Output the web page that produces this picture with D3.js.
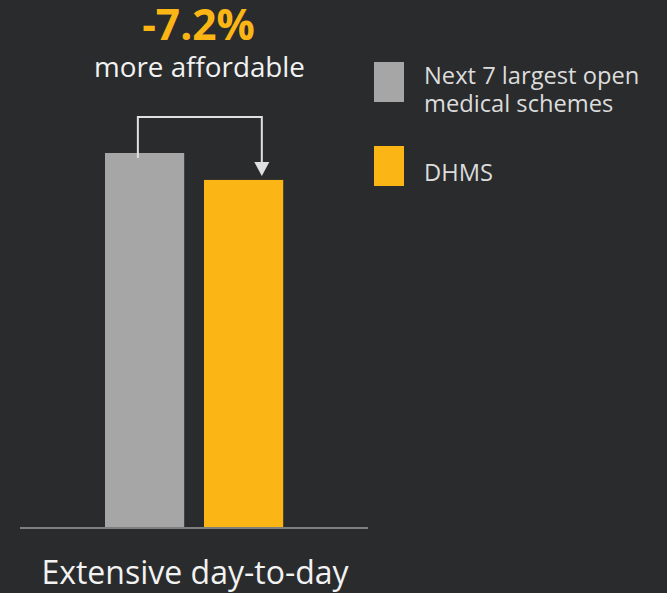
<!DOCTYPE html>
<html><head><meta charset="utf-8">
<script src="https://cdn.jsdelivr.net/npm/d3@7"></script>
<style>
html,body{margin:0;padding:0;background:#2a2b2d;}
svg{display:block;font-family:"Open Sans",sans-serif;}
</style></head>
<body><svg id="c" width="667" height="593"></svg>
<script>
const categories = ["Next 7 largest open medical schemes", "DHMS"];
const values = [100, 92.8];
const colors = ["#a6a6a6", "#fbb616"];
const legendLabels = [["Next 7 largest open", "medical schemes"], ["DHMS"]];
const groupLabel = "Extensive day-to-day";
const diffLabel = "-7.2%";
const diffSub = "more affordable";

const svg = d3.select("#c");
svg.append("rect").attr("width",667).attr("height",593).attr("fill","#2a2b2d");

const x = d3.scaleBand().domain(categories).range([105, 283.2]).paddingInner(0.2).paddingOuter(0);
const y = d3.scaleLinear().domain([0, 100]).range([527, 153]);

svg.selectAll("rect.bar").data(values).enter().append("rect")
  .attr("class","bar")
  .attr("x",(d,i)=>x(categories[i]))
  .attr("width",x.bandwidth())
  .attr("y",d=>y(d))
  .attr("height",d=>y(0)-y(d))
  .attr("fill",(d,i)=>colors[i]);

// baseline
svg.append("line").attr("x1",20).attr("x2",368).attr("y1",y(0)+1).attr("y2",y(0)+1)
  .attr("stroke","#7f7f7f").attr("stroke-width",2);

// bracket
const bx1 = x(categories[0]) + x.bandwidth()*0.415;
const bx2 = x(categories[1]) + x.bandwidth()*0.73;
const topY = y(values[0]) - 36;
const tipY = y(values[1]) - 4;
svg.append("path")
  .attr("d", `M${bx1},${y(values[0])+5} V${topY} H${bx2} V${tipY-13}`)
  .attr("fill","none").attr("stroke","#e0e0e0").attr("stroke-width",2);
svg.append("path")
  .attr("d", `M${bx2-7.5},${tipY-14} L${bx2+7.5},${tipY-14} L${bx2},${tipY} Z`)
  .attr("fill","#e0e0e0");

// annotation text
const cx = 198.5;
svg.append("text").attr("x",cx).attr("y",40).attr("text-anchor","middle")
  .attr("font-size",42.5).attr("font-weight",700).attr("fill","#fbb616").text(diffLabel);
svg.append("text").attr("x",cx+1).attr("y",77).attr("text-anchor","middle")
  .attr("font-size",27.8).attr("fill","#f2f2f2").text(diffSub);

// category label
svg.append("text").attr("x",195).attr("y",584).attr("text-anchor","middle")
  .attr("font-size",32).attr("fill","#f2f2f2").text(groupLabel);

// legend
const lg = svg.append("g");
const legY = [62, 146];
legendLabels.forEach((lines,i)=>{
  lg.append("rect").attr("x",374).attr("y",legY[i]).attr("width",30).attr("height",40).attr("fill",colors[i]);
  const t = lg.append("text").attr("x",424).attr("font-size",23.7).attr("fill","#dcdcdc");
  if(lines.length===2){
    t.append("tspan").attr("x",424).attr("y",84).text(lines[0]);
    t.append("tspan").attr("x",424).attr("y",112).text(lines[1]);
  } else {
    t.append("tspan").attr("x",424).attr("y",181).text(lines[0]);
  }
});
</script></body></html>
